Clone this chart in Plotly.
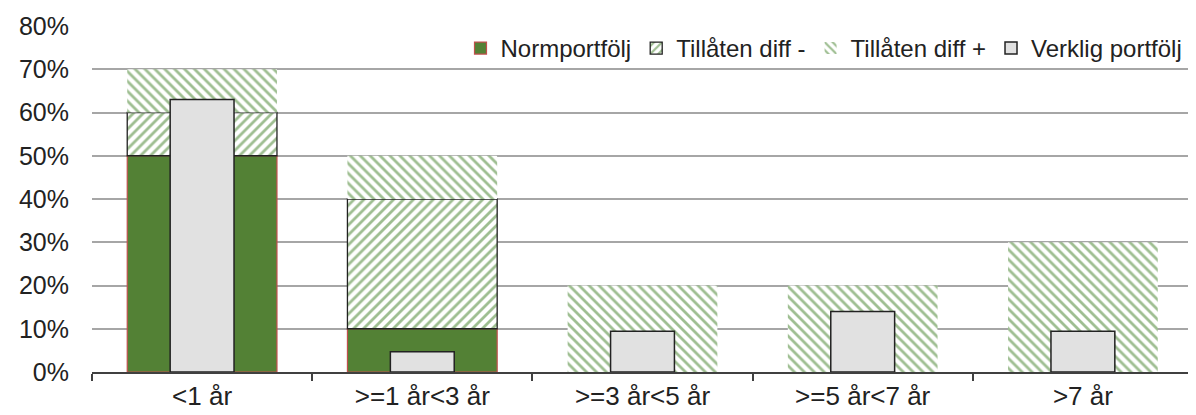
import plotly.graph_objects as go

categories = ["<1 år", ">=1 år<3 år", ">=3 år<5 år", ">=5 år<7 år", ">7 år"]
norm = [50, 10, None, None, None]
diff_minus = [10, 30, None, None, None]
diff_plus = [10, 10, 20, 20, 30]
verklig = [63, 4.7, 9.4, 14.0, 9.4]
y_ticks = [0, 10, 20, 30, 40, 50, 60, 70, 80]
y_tick_labels = ["0%", "10%", "20%", "30%", "40%", "50%", "60%", "70%", "80%"]

def base_of(*lists):
    return [sum(v or 0 for v in vals) for vals in zip(*lists)]

FONT = "Liberation Sans, Arial, sans-serif"
HATCH = "#3E7E24"

fig = go.Figure()
fig.add_trace(go.Bar(
    name="Normportfölj", x=categories, y=norm, base=[0]*5, width=0.68,
    marker=dict(color="#538135", line=dict(color="#C0504D", width=1.2)),
))
fig.add_trace(go.Bar(
    name="Tillåten diff -", x=categories, y=diff_minus, base=base_of(norm), width=0.68,
    marker=dict(color="white", line=dict(color="#222222", width=1.3),
                pattern=dict(shape="/", fgcolor=HATCH, bgcolor="white", size=7, solidity=0.4)),
))
fig.add_trace(go.Bar(
    name="Tillåten diff +", x=categories, y=diff_plus, base=base_of(norm, diff_minus), width=0.68,
    marker=dict(color="white", line=dict(width=0),
                pattern=dict(shape="\\", fgcolor=HATCH, bgcolor="white", size=7, solidity=0.4)),
))
fig.add_trace(go.Bar(
    name="Verklig portfölj", x=categories, y=verklig, base=[0]*5, width=0.29,
    marker=dict(color="#E1E1E1", line=dict(color="#222222", width=1.5)),
))

fig.update_layout(
    width=1188, height=407,
    barmode="overlay",
    margin=dict(l=84, r=3, t=18, b=43, autoexpand=False),
    plot_bgcolor="white", paper_bgcolor="white",
    font=dict(family=FONT, size=25, color="#222222"),
    showlegend=True,
    legend=dict(orientation="h", x=0.995, xanchor="right", y=1.0, yanchor="top",
                bgcolor="rgba(255,255,255,0)", font=dict(size=24), itemwidth=30,
                traceorder="normal", tracegroupgap=0),
    xaxis=dict(range=[-0.5, 4.5], showline=True, linecolor="#404040", linewidth=1.5,
               ticks="outside", ticklen=7, tickcolor="#404040", tickwidth=1.5,
               tickson="boundaries", showgrid=False, tickfont=dict(size=26),
               automargin=False),
    yaxis=dict(range=[0, 80], tickvals=y_ticks, ticktext=y_tick_labels, showline=False,
               gridcolor="#A6A6A6", gridwidth=1.5, zeroline=False,
               ticklabelstandoff=22, tickfont=dict(size=25), automargin=False),
)

fig.write_html("out.html")
